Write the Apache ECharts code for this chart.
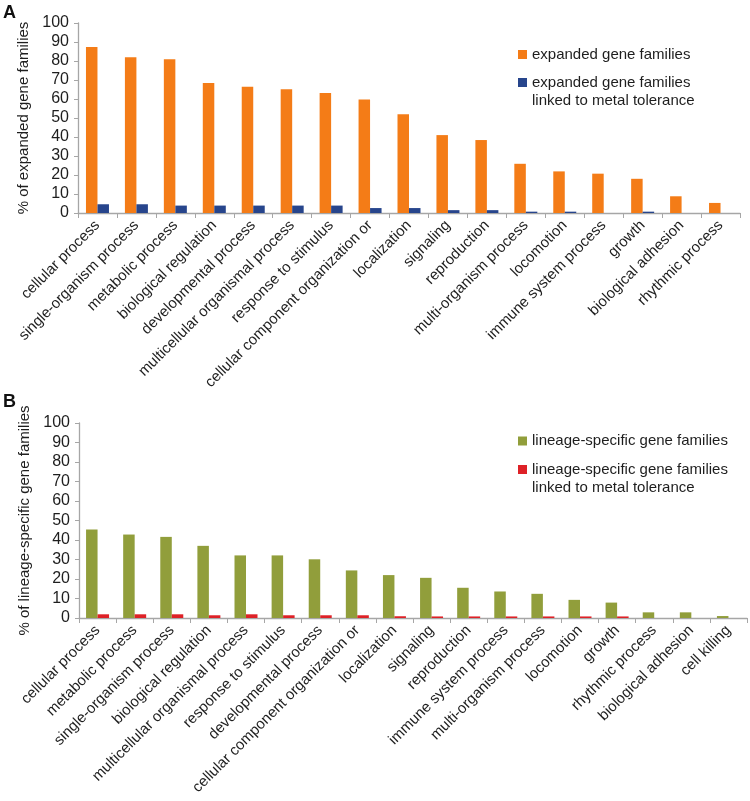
<!DOCTYPE html>
<html>
<head>
<meta charset="utf-8">
<script src="https://cdn.jsdelivr.net/npm/echarts@6/dist/echarts.min.js"></script>
<style>html,body{margin:0;padding:0;background:#fff;}#c{width:750px;height:801px;}</style>
</head>
<body>
<div id="c"></div>
<script>
const catsA = ['cellular process','single-organism process','metabolic process','biological regulation','developmental process','multicellular organismal process','response to stimulus','cellular component organization or','localization','signaling','reproduction','multi-organism process','locomotion','immune system process','growth','biological adhesion','rhythmic process'];
const expanded = [87.4, 82.0, 80.9, 68.4, 66.5, 65.1, 63.1, 59.8, 52.0, 41.0, 38.4, 25.9, 21.9, 20.7, 18.0, 8.8, 5.3];
const expandedMetal = [4.6, 4.6, 3.9, 3.9, 3.9, 3.9, 3.9, 2.6, 2.6, 1.5, 1.5, 0.7, 0.7, 0, 0.7, 0, 0];

const catsB = ['cellular process','metabolic process','single-organism process','biological regulation','multicellular organismal process','response to stimulus','developmental process','cellular component organization or','localization','signaling','reproduction','immune system process','multi-organism process','locomotion','growth','rhythmic process','biological adhesion','cell killing'];
const lineage = [45.4, 42.8, 41.6, 37.0, 32.1, 32.1, 30.1, 24.4, 22.0, 20.6, 15.5, 13.6, 12.4, 9.3, 7.9, 2.9, 2.9, 1.0];
const lineageMetal = [1.9, 1.9, 1.9, 1.4, 1.9, 1.4, 1.4, 1.4, 0.9, 0.8, 0.8, 0.8, 0.8, 0.8, 0.8, 0, 0, 0];

const yMin = 0, yMax = 100, yStep = 10;

const nameA1 = 'expanded gene families';
const nameA2 = 'expanded gene families linked to metal tolerance';
const nameB1 = 'lineage-specific gene families';
const nameB2 = 'lineage-specific gene families linked to metal tolerance';

const FONT = 'Liberation Sans, Arial, sans-serif';
const TXT = '#1e1e1e';
const AX = '#a6a6a6';

function xAxis(idx, cats) {
  return {
    type: 'category', gridIndex: idx, data: cats,
    axisLine: {lineStyle: {color: AX, width: 1.3}},
    axisTick: {show: true, interval: 0, length: 5, lineStyle: {color: AX}},
    axisLabel: {interval: 0, rotate: 45, fontSize: 15, fontFamily: FONT, color: TXT, margin: 10}
  };
}
function yAxis(idx, name) {
  return {
    type: 'value', gridIndex: idx, min: yMin, max: yMax, interval: yStep,
    name: name, nameLocation: 'middle', nameGap: 42, nameRotate: 90,
    nameTextStyle: {fontSize: 15, fontFamily: FONT, color: TXT},
    axisLine: {show: true, lineStyle: {color: AX, width: 1.3}},
    axisTick: {show: true, length: 4, lineStyle: {color: AX}},
    splitLine: {show: false},
    axisLabel: {fontSize: 16, fontFamily: FONT, color: TXT, margin: 9}
  };
}
function legend(name, left, top, twoLine) {
  return {
    data: [name], left: left, top: top, padding: 0, icon: 'rect',
    itemWidth: 9, itemHeight: 9, selectedMode: false,
    // two-line entries: an empty first line keeps the swatch level with the first text line
    formatter: n => twoLine ? ' \n' + n.replace(' linked', '\nlinked') : n,
    textStyle: {fontSize: 15, fontFamily: FONT, color: TXT, lineHeight: 18}
  };
}

const chart = echarts.init(document.getElementById('c'), null, {renderer: 'canvas'});
chart.setOption({
  backgroundColor: '#ffffff',
  animation: false,
  title: [
    {text: 'A', left: 3, top: 4, padding: 0, textStyle: {fontSize: 18, fontWeight: 'bold', fontFamily: FONT, color: '#111'}},
    {text: 'B', left: 3, top: 393, padding: 0, textStyle: {fontSize: 18, fontWeight: 'bold', fontFamily: FONT, color: '#111'}}
  ],
  legend: [
    legend(nameA1, 518, 45.5, false),
    legend(nameA2, 518, 55.5, true),
    legend(nameB1, 518, 432, false),
    legend(nameB2, 518, 442.5, true)
  ],
  grid: [
    {left: 78, top: 23, width: 662, height: 190},
    {left: 79, top: 423, width: 668, height: 195}
  ],
  xAxis: [xAxis(0, catsA), xAxis(1, catsB)],
  yAxis: [yAxis(0, '% of expanded gene families'), yAxis(1, '% of lineage-specific gene families')],
  series: [
    {name: nameA1, type: 'bar', xAxisIndex: 0, yAxisIndex: 0, data: expanded, barWidth: 11.5, barGap: '0%', itemStyle: {color: '#f47c17'}},
    {name: nameA2, type: 'bar', xAxisIndex: 0, yAxisIndex: 0, data: expandedMetal, barWidth: 11.5, barGap: '0%', itemStyle: {color: '#27458c'}},
    {name: nameB1, type: 'bar', xAxisIndex: 1, yAxisIndex: 1, data: lineage, barWidth: 11.5, barGap: '0%', itemStyle: {color: '#919e3b'}},
    {name: nameB2, type: 'bar', xAxisIndex: 1, yAxisIndex: 1, data: lineageMetal, barWidth: 11.5, barGap: '0%', itemStyle: {color: '#de2127'}}
  ]
});
</script>
</body>
</html>
